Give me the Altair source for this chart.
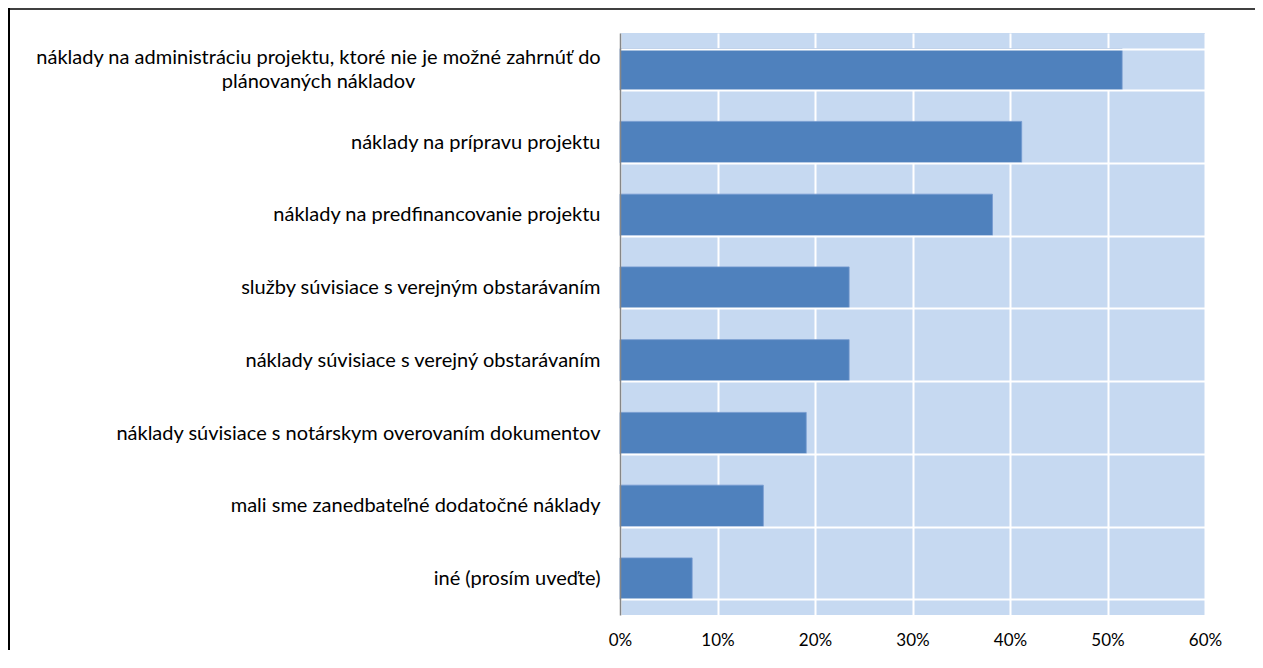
import altair as alt
import pandas as pd

FONT = "Lato"

categories = [
    "náklady na administráciu projektu, ktoré nie je možné zahrnúť do|plánovaných nákladov",
    "náklady na prípravu projektu",
    "náklady na predfinancovanie projektu",
    "služby súvisiace s verejným obstarávaním",
    "náklady súvisiace s verejný obstarávaním",
    "náklady súvisiace s notárskym overovaním dokumentov",
    "mali sme zanedbateľné  dodatočné náklady",
    "iné (prosím uveďte)",
]
values = [51.5, 41.2, 38.2, 23.5, 23.5, 19.1, 14.7, 7.4]
x_ticks = [0, 10, 20, 30, 40, 50, 60]

df = pd.DataFrame({"kategoria": categories, "podiel": values})
first = categories[0]
test_first = f"datum.value == '{first}'"

bars = alt.Chart(df).mark_bar(color="#4F81BD", stroke="#7399CF", strokeWidth=0.8).encode(
    x=alt.X(
        "podiel:Q",
        scale=alt.Scale(domain=[0, 60], nice=False, zero=True),
        axis=alt.Axis(
            values=x_ticks, labelExpr="datum.value + '%'", title=None,
            domain=False, ticks=False, grid=True, gridColor="white", gridWidth=2,
            labelFont=FONT, labelFontSize=17, labelColor="black", labelPadding=17,
            labelFlush=False,
        ),
    ),
    y=alt.Y(
        "kategoria:N",
        sort=categories,
        scale=alt.Scale(paddingInner=0.43, paddingOuter=0.215),
        axis=alt.Axis(
            title=None, ticks=False, domainColor="#868686", domainWidth=1.5,
            grid=True, gridColor="white", gridWidth=2, tickBand="extent",
            labelExpr="split(datum.label, '|')",
            labelAlign={"condition": {"test": test_first, "value": "center"}, "value": "right"},
            labelPadding={"condition": {"test": test_first, "value": 302}, "value": 20},
            labelOffset={"condition": {"test": test_first, "value": -12}, "value": 0},
            labelBaseline="middle",
            labelLineHeight=24, labelLimit=0, zindex=1,
            labelFont=FONT, labelFontSize=20, labelColor="black",
        ),
    ),
)

one = pd.DataFrame({"a": [0]})
left_border = alt.Chart(one).mark_rule(color="black", strokeWidth=2).encode(
    x=alt.value(-611), y=alt.value(-25), y2=alt.value(620)
)
top_border = alt.Chart(one).mark_rule(color="black", strokeWidth=1.5).encode(
    x=alt.value(-612), x2=alt.value(640), y=alt.value(-24)
)

chart = alt.layer(bars, left_border, top_border).properties(
    width=585, height=582,
    padding={"left": 612, "top": 25, "right": 50, "bottom": 35},
    autosize=alt.AutoSizeParams(type="none"),
).configure(background="white").configure_view(fill="#C6D9F1", stroke=None)

chart.save("out.html", embed_options={"renderer": "svg", "actions": False})
